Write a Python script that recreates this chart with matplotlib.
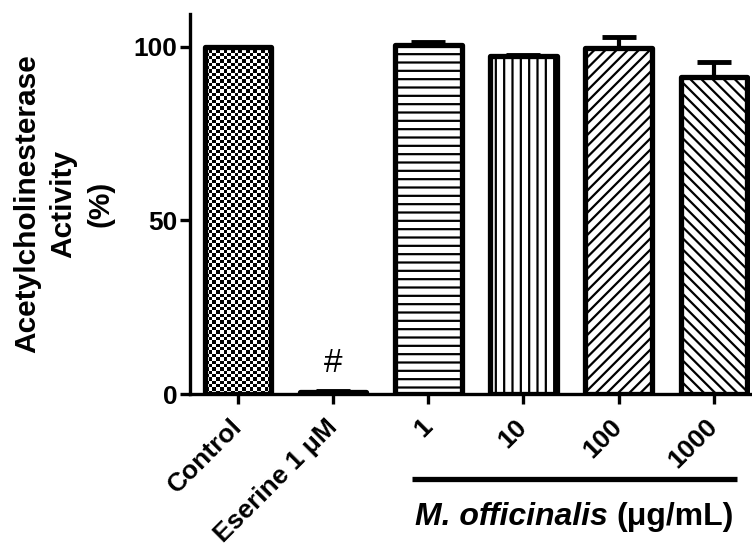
import matplotlib
matplotlib.use("Agg")
import matplotlib.pyplot as plt
import numpy as np

labels = ['Control', 'Eserine 1 \u03bcM', '1', '10', '100', '1000']
means = [100.0, 0.6, 100.6, 97.4, 99.6, 91.4]
errs = [0.0, 0.3, 0.9, 0.4, 3.2, 4.2]
hatches = [None, None, '--', '||', '///', '\\\\\\']
group_label = 'M. officinalis'
group_unit = '(\u03bcg/mL)'

plt.rcParams['font.family'] = ['Liberation Sans', 'DejaVu Sans']
plt.rcParams['font.weight'] = 'bold'
plt.rcParams['hatch.linewidth'] = 1.6
plt.rcParams['hatch.color'] = 'black'

fig = plt.figure(figsize=(7.52, 5.54), dpi=100)
ax = fig.add_axes([190 / 752, 1 - 394 / 554, 560 / 752, 380 / 554])

x = np.arange(len(labels))
bars = ax.bar(x, means, 0.7, facecolor='white', edgecolor='black', linewidth=3.8, zorder=3)
for b, h in zip(bars, hatches):
    b.set_joinstyle('round')
    if h:
        b.set_hatch(h)

# checkerboard fill for the control bar
cb = bars[0]
x0, w, hgt = cb.get_x(), cb.get_width(), cb.get_height()
rows, cols = 104, 18
board = (np.indices((rows, cols)).sum(axis=0) % 2).astype(float)
img = ax.imshow(board, cmap='gray', interpolation='nearest', aspect='auto',
                extent=(x0, x0 + w, 0, hgt), zorder=2)
img.set_clip_path(cb)
cb.set_facecolor('none')

ax.errorbar(x, means, yerr=[np.zeros(len(errs)), errs], fmt='none', ecolor='black',
            elinewidth=3, capsize=12, capthick=3.5, zorder=4)

ax.text(1, means[1] + errs[1] + 5.3, '#', ha='center', va='baseline', fontsize=24,
        fontweight='normal')

ax.set_xlim(-0.504, 5.38)
ax.set_ylim(0, 109.5)
ax.set_yticks([0, 50, 100])
ax.set_xticks(x)
ax.set_xticklabels(labels, rotation=45, ha='right', va='center', rotation_mode='anchor')
for s in ['top', 'right']:
    ax.spines[s].set_visible(False)
for s in ['left', 'bottom']:
    ax.spines[s].set_linewidth(2.4)
ax.tick_params(axis='both', width=2.4, length=7, labelsize=19)
ax.tick_params(axis='x', pad=14)
ax.tick_params(axis='y', pad=2)

ax.set_ylabel('Acetylcholinesterase\nActivity\n(%)', fontsize=21.5, fontweight='bold',
              linespacing=1.4)
ax.yaxis.set_label_coords(-0.135, 0.5)

ax.plot([1.83, 5.24], [-24.5, -24.5], color='black', linewidth=3.8, clip_on=False,
        solid_capstyle='butt')
t1 = fig.text(415 / 752, 1 - 517 / 554, group_label + ' ', fontsize=23, style='italic',
              ha='left', va='center')
ax.annotate(group_unit, xy=(1, 0), xycoords=t1, fontsize=23, ha='left', va='bottom')

fig.savefig('out.png', dpi=100)
